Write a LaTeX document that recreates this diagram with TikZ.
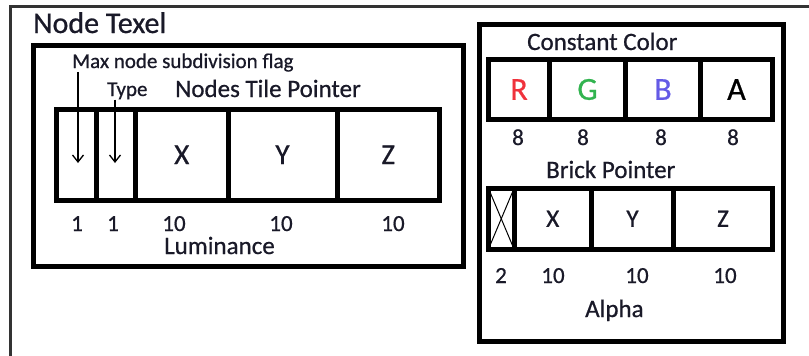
\documentclass[tikz,border=0pt]{standalone}
\usepackage{fontspec}
\setmainfont{Carlito}[FakeBold=0.7]
\usepackage{xcolor}
\usetikzlibrary{calc,arrows.meta,positioning}
\definecolor{redch}{RGB}{240,50,60}
\definecolor{greench}{RGB}{50,180,80}
\definecolor{bluech}{RGB}{100,90,230}
\definecolor{inkc}{RGB}{25,25,40}
\tikzset{
  outer_line/.style = {draw=black!80, line width=2.5pt},
  frame_box/.style = {rectangle, draw=black, line width=5pt, inner sep=0pt},
  bit_cell/.style = {rectangle, draw=black, line width=5pt, inner sep=0pt, text=inkc},
  lbl/.style = {inner sep=0pt, anchor=base west, text=inkc, font=\fontsize{25}{27}\selectfont},
  lbl_s/.style = {lbl, font=\fontsize{21}{23}\selectfont},
  bits/.style = {inner sep=0pt, anchor=base, text=inkc, font=\fontsize{23}{25}\selectfont},
  ptr/.style = {line width=1.3pt, -{Straight Barb[length=7pt,width=11pt]}}
}
\begin{document}
\begin{tikzpicture}[x=1pt,y=-1pt]
\useasboundingbox (0,0) rectangle (809,356);
% page frame, cut off at right and bottom
\draw[outer_line] (10.5,356) -- (10.5,6.5) -- (809,6.5);

\node[lbl, font=\fontsize{30}{32}\selectfont] (title) at (33,33) {Node Texel};

% node texel words
\node[frame_box, minimum width=430pt, minimum height=220.5pt] (texelbox) at (248.5,155.75) {};
\node[lbl_s] (maxlbl) at (72,68) {Max node subdivision flag};
\node[lbl_s] (typelbl) at (107,96) {Type};
\node[lbl] (tilelbl) at (175,97) {Nodes Tile Pointer};

\begin{scope}[every node/.style={bit_cell, minimum height=91.5pt, font=\fontsize{29}{31}\selectfont}]
  \node[minimum width=40pt] (flagcell) at (76.5,154.75) {};
  \node[minimum width=39pt] (typecell) at (116,154.75) {};
  \node[minimum width=92.5pt] (tx) at (181.75,154.75) {X};
  \node[minimum width=109pt] (ty) at (282.5,154.75) {Y};
  \node[minimum width=102.5pt] (tz) at (388.25,154.75) {Z};
\end{scope}
\coordinate (flagtip) at (78,163);
\coordinate (typetip) at (115,163);
\draw[ptr] (maxlbl.south west -| flagtip) -- (flagtip);
\draw[ptr] (typelbl.south west -| typetip) -- (typetip);

\node[bits] (nflag) at (77,231) {1};
\node[bits] (ntype) at (113,231) {1};
\node[bits] (ntx) at (174,231) {10};
\node[bits] (nty) at (281,231) {10};
\node[bits] (ntz) at (393,231) {10};
\node[lbl] (lumlbl) at (164,254) {Luminance};

% brick words
\node[frame_box, minimum width=304pt, minimum height=317pt] (brickbox) at (631.5,182.5) {};
\node[lbl] (colorlbl) at (527,50) {Constant Color};
\begin{scope}[every node/.style={bit_cell, minimum height=60pt, font=\fontsize{32}{34}\selectfont}]
  \node[minimum width=61pt, text=redch] (cr) at (519,89.5) {R};
  \node[minimum width=76pt, text=greench] (cg) at (587.5,89.5) {G};
  \node[minimum width=75pt, text=bluech] (cb) at (663,89.5) {B};
  \node[minimum width=72pt, text=black] (ca) at (736.5,89.5) {A};
\end{scope}
\foreach \x/\n in {518/r, 583/g, 661/b, 733/a}
  \node[bits] (n\n) at (\x,145) {8};

\node[lbl] (bricklbl) at (546,178) {Brick Pointer};
\begin{scope}[every node/.style={bit_cell, minimum height=60.5pt, font=\fontsize{25}{27}\selectfont}]
  \node[minimum width=25.5pt] (bpad) at (501.25,218.75) {};
  \node[minimum width=77.5pt] (bx) at (552.75,218.75) {X};
  \node[minimum width=82pt] (by) at (632.5,218.75) {Y};
  \node[minimum width=99pt] (bz) at (723,218.75) {Z};
\end{scope}
\draw[line width=1pt] ($(bpad.north west)+(2.5,2.5)$) -- ($(bpad.south east)+(-2.5,-2.5)$);
\draw[line width=1pt] ($(bpad.north east)+(-2.5,2.5)$) -- ($(bpad.south west)+(2.5,-2.5)$);

\node[bits] (npad) at (501,283) {2};
\node[bits] (nbx) at (553,283) {10};
\node[bits] (nby) at (637,283) {10};
\node[bits] (nbz) at (725,283) {10};
\node[lbl] (alphalbl) at (585,317) {Alpha};
\end{tikzpicture}
\end{document}
